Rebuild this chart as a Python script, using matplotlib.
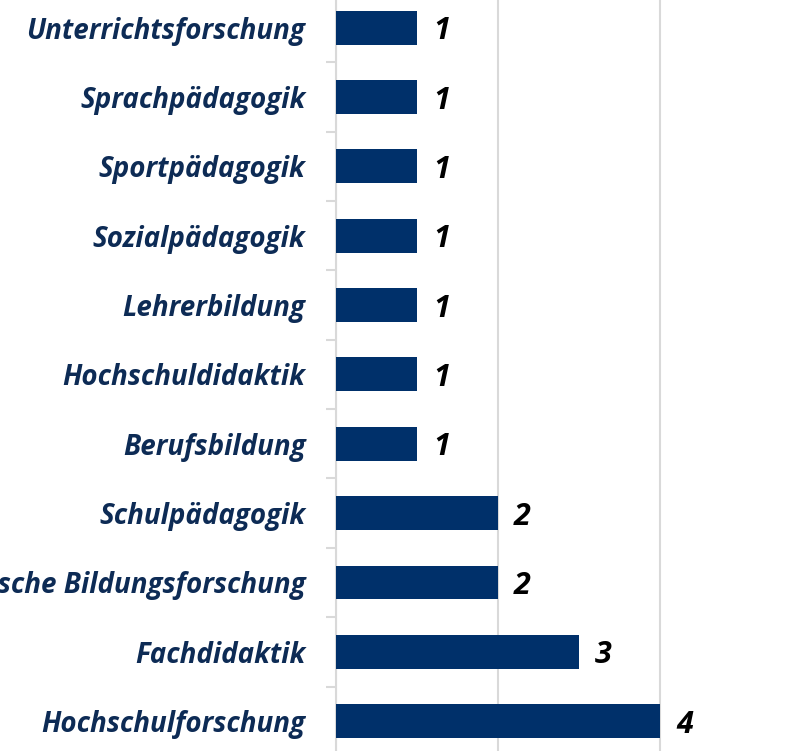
import numpy as np
import matplotlib.pyplot as plt

# Daten (von oben nach unten)
categories = ["Unterrichtsforschung", "Sprachpädagogik", "Sportpädagogik",
              "Sozialpädagogik", "Lehrerbildung", "Hochschuldidaktik",
              "Berufsbildung", "Schulpädagogik", "Empirische Bildungsforschung",
              "Fachdidaktik", "Hochschulforschung"]
counts = [1, 1, 1, 1, 1, 1, 1, 2, 2, 3, 4]

bar_color = "#00306a"
label_color = "#0d2b55"
grid_color = "#d9d9d9"

fig = plt.figure(figsize=(8.08, 7.51), dpi=100)
ax = fig.add_axes([336 / 808, 0, (808 - 336) / 808, 1])

y = np.arange(len(categories))
ax.barh(y, counts, height=0.49, color=bar_color, zorder=3)

for yi, v in zip(y, counts):
    ax.text(v + 0.2, yi, str(v), va="center_baseline", ha="left", fontsize=22,
            fontweight="bold", fontstyle="italic", color="black",
            family="Open Sans")

ax.set_xlim(0, 5.83)
ax.set_ylim(len(categories) - 1 + 0.43, -0.40)

ax.set_yticks(y)
ax.set_yticklabels(categories, fontsize=20, fontweight="bold",
                   fontstyle="italic", color=label_color, family="Open Sans",
                   va="center_baseline")
ax.tick_params(axis="y", which="major", length=0, pad=22)
ax.set_yticks(y[:-1] + 0.5, minor=True)
ax.tick_params(axis="y", which="minor", length=7, color=grid_color, width=1.5)

ax.set_xticks([0, 2, 4])
ax.tick_params(axis="x", length=0, labelbottom=False)
ax.grid(axis="x", color=grid_color, linewidth=1.5, zorder=0)

for s in ["top", "right", "bottom"]:
    ax.spines[s].set_visible(False)
ax.spines["left"].set_color(grid_color)
ax.spines["left"].set_linewidth(1.5)

fig.savefig("out.png", dpi=100)
